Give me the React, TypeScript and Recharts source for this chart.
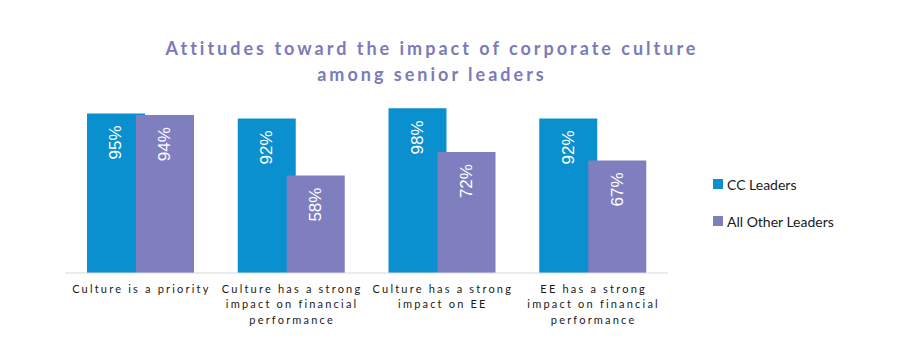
import React from 'react';
import { BarChart, Bar, XAxis, YAxis, Legend, LabelList } from 'recharts';

const categories = [
  'Culture is a priority',
  'Culture has a strong impact on financial performance',
  'Culture has a strong impact on EE',
  'EE has a strong impact on financial performance',
];
const ccLeaders = [95, 92, 98, 92];
const otherLeaders = [94, 58, 72, 67];
const seriesNames = ['CC Leaders', 'All Other Leaders'];
const colors = ['#0a8fcf', '#7f7fbf'];
const titleLines = ['Attitudes toward the impact of corporate culture', 'among senior leaders'];

const data = categories.map((c, i) => ({ name: c, cc: ccLeaders[i], other: otherLeaders[i] }));

function wrap(text: string, max: number): string[] {
  const words = text.split(' ');
  const lines: string[] = [];
  let cur = '';
  for (const w of words) {
    const next = cur ? cur + ' ' + w : w;
    if (next.length > max && cur) {
      lines.push(cur);
      cur = w;
    } else cur = next;
  }
  if (cur) lines.push(cur);
  return lines;
}

const Tick = (props: any) => {
  const { x, y, payload } = props;
  const lines = wrap(payload.value, 21);
  return (
    <g>
      {lines.map((l, i) => (
        <text
          key={i}
          x={x + 1}
          y={y + 7 + i * 15.5}
          textAnchor="middle"
          dominantBaseline="central"
          fontFamily="Lato, sans-serif"
          fontSize={11}
          letterSpacing={2.2}
          fill="#1a1a1a"
        >
          {l}
        </text>
      ))}
    </g>
  );
};

const BarLabel = (props: any) => {
  const { x, y, width, value } = props;
  const cx = x + width / 2;
  const ty = y + 12;
  return (
    <text
      x={cx}
      y={ty}
      transform={`rotate(-90 ${cx} ${ty})`}
      textAnchor="end"
      dominantBaseline="central"
      fill="#ffffff"
      fontFamily="Liberation Sans, Arial, sans-serif"
      fontSize={17}
    >
      {value}%
    </text>
  );
};

const LegendContent = () => (
  <div style={{ fontFamily: 'Lato, sans-serif', fontSize: 14, color: '#1a1a1a' }}>
    {seriesNames.map((n, i) => (
      <div key={n} style={{ display: 'flex', alignItems: 'center', height: 18, marginBottom: i === 0 ? 19 : 0 }}>
        <span style={{ width: 10, height: 10, background: colors[i], display: 'inline-block', marginRight: 4 }} />
        <span>{n}</span>
      </div>
    ))}
  </div>
);

export default function App() {
  return (
    <div style={{ position: 'absolute', left: 0, top: 0, width: 899, height: 357, background: '#fff' }}>
      <div
        style={{
          position: 'absolute',
          left: 3,
          width: 858,
          top: 35,
          textAlign: 'center',
          fontFamily: 'Lato, sans-serif',
          fontWeight: 700,
          fontSize: 18,
          letterSpacing: 3,
          lineHeight: '26px',
          color: '#7b7bb9',
        }}
      >
        {titleLines.map((t) => (
          <div key={t}>{t}</div>
        ))}
      </div>
      <BarChart
        width={899}
        height={357}
        data={data}
        margin={{ top: 105, right: 51, bottom: 0, left: 65 }}
        barGap={-9}
        barCategoryGap={22}
      >
        <XAxis
          dataKey="name"
          tick={<Tick />}
          tickLine={false}
          axisLine={{ stroke: '#d9d9d9' }}
          interval={0}
          height={84}
        />
        <YAxis hide domain={[0, 100]} width={0} />
        <Legend
          layout="horizontal"
          verticalAlign="middle"
          align="right"
          content={<LegendContent />}
          wrapperStyle={{ left: 713, top: 175, width: 180 }}
        />
        <Bar dataKey="cc" name={seriesNames[0]} fill={colors[0]} barSize={58} isAnimationActive={false}>
          <LabelList dataKey="cc" content={<BarLabel />} />
        </Bar>
        <Bar dataKey="other" name={seriesNames[1]} fill={colors[1]} barSize={58} isAnimationActive={false}>
          <LabelList dataKey="other" content={<BarLabel />} />
        </Bar>
      </BarChart>
    </div>
  );
}
